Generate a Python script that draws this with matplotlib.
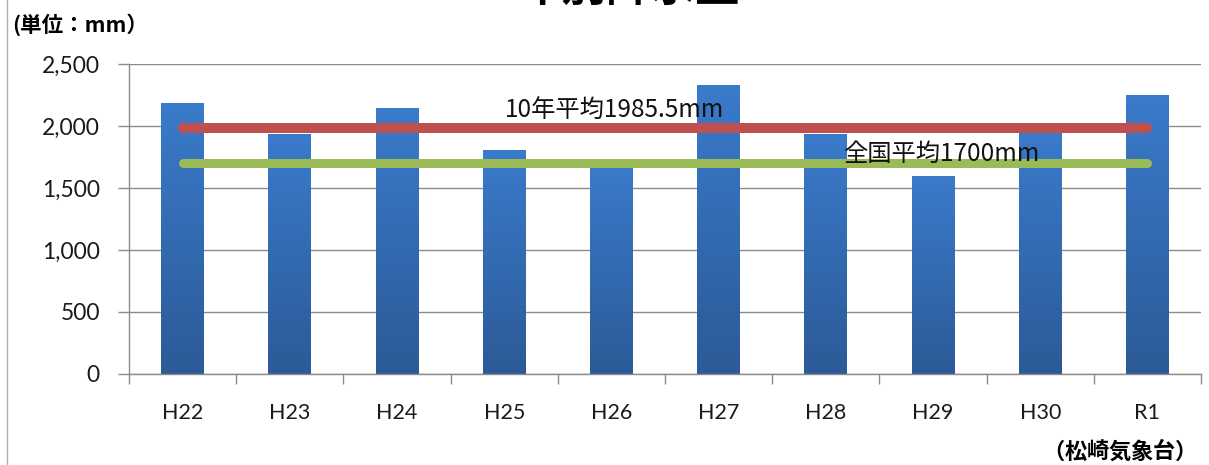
import matplotlib.pyplot as plt
import numpy as np
from matplotlib.colors import LinearSegmentedColormap
from matplotlib.lines import Line2D

plt.rcParams['font.family'] = ['Lato', 'Noto Sans CJK JP', 'DejaVu Sans']

# Annual rainfall (mm), Matsuzaki weather station
years = ['H22', 'H23', 'H24', 'H25', 'H26', 'H27', 'H28', 'H29', 'H30', 'R1']
rainfall = [2188, 1933, 2143, 1806, 1695, 2331, 1933, 1599, 1975, 2250]
avg_10yr = 1985.5
avg_national = 1700
y_ticks = [0, 500, 1000, 1500, 2000, 2500]

jp = ['Noto Sans CJK JP', 'DejaVu Sans']
grey = '#8c8c8c'

fig = plt.figure(figsize=(12.09, 4.65), dpi=100)
ax = fig.add_axes([0.1067, 0.1957, 0.8867, 0.6667])

x = np.arange(len(years))
bars = ax.bar(x, rainfall, width=0.4, facecolor='none', edgecolor='none', zorder=2)

# vertical gradient fill for each bar
bar_cmap = LinearSegmentedColormap.from_list('bar', ['#2c5a97', '#3a7bcb'])
grad = np.linspace(0, 1, 256).reshape(-1, 1)
for b in bars:
    x0, w, h = b.get_x(), b.get_width(), b.get_height()
    im = ax.imshow(grad, cmap=bar_cmap, origin='lower', aspect='auto',
                   extent=(x0, x0 + w, 0, h), zorder=2)
    im.set_clip_path(b)

ax.plot([x[0], x[-1]], [avg_10yr, avg_10yr], color='#c0504d', lw=7.2,
        solid_capstyle='round', zorder=3)
ax.plot([x[0], x[-1]], [avg_national, avg_national], color='#9bbb59', lw=6.5,
        solid_capstyle='round', zorder=3)

ax.text(4.03, 2129, f'10年平均{avg_10yr}mm', ha='center', va='center',
        fontsize=17.5, family=jp, color='#111111', zorder=4)
ax.text(7.08, 1774, f'全国平均{avg_national}mm', ha='center', va='center',
        fontsize=17.5, family=jp, color='#111111', zorder=4)

ax.set_xlim(-0.5, len(years) - 0.5)
ax.set_ylim(0, 2500)
ax.set_yticks(y_ticks)
ax.set_yticklabels([f'{v:,}' for v in y_ticks])
ax.set_xticks(x)
ax.set_xticklabels(years)
ax.set_xticks(np.arange(-0.5, len(years)), minor=True)
ax.tick_params(axis='x', which='major', length=0, pad=21, labelsize=15.5,
               labelcolor='#1a1a1a')
ax.tick_params(axis='x', which='minor', length=7, color=grey, width=1)
ax.tick_params(axis='y', length=8, color=grey, width=1, pad=13, labelsize=16.5,
               labelcolor='#1a1a1a')

ax.yaxis.grid(True, color=grey, lw=1)
ax.set_axisbelow(True)
for side in ['top', 'right']:
    ax.spines[side].set_visible(False)
for side in ['left', 'bottom']:
    ax.spines[side].set_color(grey)
    ax.spines[side].set_linewidth(1)

fig.text(0.52, 1.026, '年別降水量', ha='center', va='center', fontsize=32,
         fontweight='bold', family=jp)
fig.text(0.010, 0.948, '(単位：mm）', ha='left', va='center', fontsize=15.5,
         fontweight='bold', family=jp)

# station credit, spread out a little
credit = '（松崎気象台）'
for i, ch in enumerate(credit):
    fig.text(0.8715 + i * 0.0182, 0.028, ch, ha='center', va='center',
             fontsize=16, fontweight='bold', family=jp)

fig.add_artist(Line2D([0.0055, 0.0055], [0, 1], transform=fig.transFigure,
                      color='#b0b0b0', lw=1))

fig.savefig('out.png', dpi=100)
